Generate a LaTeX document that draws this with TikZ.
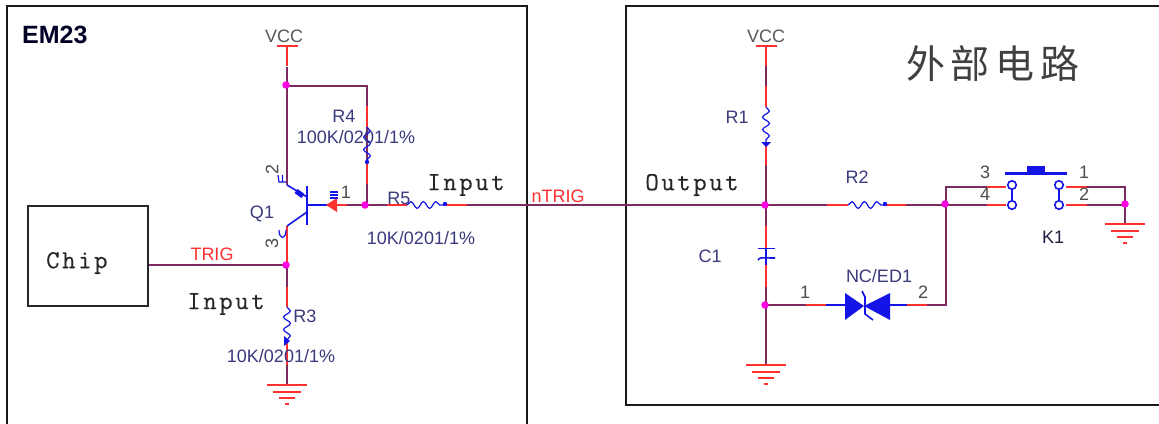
\documentclass[tikz,border=0pt]{standalone}
\usepackage{fontspec}
\setmainfont{Liberation Sans}
\newfontfamily\cjk{Noto Sans CJK SC}
\newfontfamily\mono[LetterSpace=10,FakeBold=0.3]{Latin Modern Mono}
\usetikzlibrary{decorations.pathmorphing}
\definecolor{wirepurple}{HTML}{7A2C5E}
\definecolor{wirered}{HTML}{FF3030}
\definecolor{partblue}{HTML}{1414E6}
\definecolor{refnavy}{HTML}{3A3A7E}
\definecolor{junctionpink}{HTML}{FF00E0}
\tikzset{
  border/.style={draw=black!90,line width=1.5pt},
  wire/.style={draw=wirepurple,line width=2pt},
  redwire/.style={draw=wirered,line width=2pt},
  part/.style={draw=partblue,line width=1.6pt},
  res/.style={draw=partblue,line width=1.2pt,decorate,decoration={snake,segment length=12.5pt,amplitude=3.4pt}},
  junction/.style={circle,fill=junctionpink,inner sep=0pt,minimum size=7.5pt},
  lbl/.style={text=refnavy,font=\fontsize{18}{18}\selectfont,inner sep=0pt},
  netlbl/.style={text=wirered,font=\fontsize{18}{18}\selectfont,inner sep=0pt},
  pinlbl/.style={text=black!70,font=\fontsize{18}{18}\selectfont,inner sep=0pt},
  monolbl/.style={text=black!85,font=\mono\fontsize{26}{26}\selectfont,inner sep=0pt},
  gndline/.style={draw=wirered,line width=2pt},
  pad/.style={circle,draw=partblue,line width=1.6pt,fill=white,inner sep=0pt,minimum size=8.5pt},
}
\newcommand{\gnd}[2]{%
  \draw[gndline] (#1-20,#2) -- (#1+20,#2);
  \draw[gndline] (#1-14,#2+6.5) -- (#1+14,#2+6.5);
  \draw[gndline] (#1-8,#2+13) -- (#1+8,#2+13);
  \draw[gndline] (#1-2,#2+19) -- (#1+2,#2+19);
}
\begin{document}
\begin{tikzpicture}[x=1pt,y=-1pt]
\useasboundingbox (0,0) rectangle (1159,423);
\fill[white] (0,0) rectangle (1159,423);
% frames
\draw[border] (7,430) -- (7,6) -- (527,6) -- (527,430);
\draw[border] (1165,6) -- (626,6) -- (626,405) -- (1165,405);
\node[draw=black!85,line width=1.5pt,minimum width=120pt,minimum height=100pt,inner sep=0pt,anchor=north west] (chip) at (27,205) {};
\node[monolbl,anchor=west] (chiptxt) at (46,263) {Chip};
\node[anchor=west,inner sep=0pt,text=black!85!blue,font=\bfseries\fontsize{25}{25}\selectfont] (em) at (22,35) {EM23};

% purple wires
\draw[wire] (287,67) -- (287,185);
\draw[wire] (287,86) -- (367,86) -- (367,205);
\draw[wire] (333,205) -- (407,205);
\draw[wire] (445,205) -- (848,205);
\draw[wire] (885,205) -- (1005,205);
\draw[wire] (287,226) -- (287,307);
\draw[wire] (chip.east|-0,265) -- (287,265);
\draw[wire] (287,340) -- (287,385);
\draw[wire] (766,60) -- (766,107);
\draw[wire] (766,143) -- (766,248);
\draw[wire] (766,258) -- (766,365);
\draw[wire] (766,305) -- (826,305);
\draw[wire] (907,305) -- (946,305) -- (946,187) -- (1006,187);
\draw[wire] (1066,187) -- (1125,187) -- (1125,224);
\draw[wire] (1066,205) -- (1125,205);

% red overlays
\draw[redwire] (287,46) -- (287,66);
\draw[redwire] (766,46) -- (766,66);
\draw[redwire] (766,86) -- (766,107);
\draw[redwire] (766,143) -- (766,165);
\draw[redwire] (367,106) -- (367,127);
\draw[redwire] (367,163) -- (367,184);
\draw[redwire] (333,205) -- (347,205);
\draw[redwire] (387,205) -- (407,205);
\draw[redwire] (445,205) -- (467,205);
\draw[redwire] (827,205) -- (848,205);
\draw[redwire] (885,205) -- (906,205);
\draw[redwire] (287,226) -- (287,263);
\draw[redwire] (287,287) -- (287,307);
\draw[redwire] (287,340) -- (287,365);
\draw[redwire] (766,226) -- (766,248);
\draw[redwire] (766,265) -- (766,287);
\draw[redwire] (806,305) -- (826,305);
\draw[redwire] (907,305) -- (927,305);
\draw[redwire] (987,187) -- (1006,187);
\draw[redwire] (987,205) -- (1006,205);
\draw[redwire] (1066,187) -- (1087,187);
\draw[redwire] (1066,205) -- (1087,205);

% VCC bars
\draw[gndline] (277,46) -- (298,46);
\draw[gndline] (756,46) -- (777,46);

% resistors
\draw[res] (367,127) -- (367,163);
\draw[res] (407,205) -- (445,205);
\draw[res] (287,307) -- (287,340);
\draw[res] (766,107) -- (766,143);
\draw[res] (848,205) -- (885,205);
\fill[partblue] (367,162) circle (2.2pt);
\fill[partblue] (445,204) circle (2.2pt);
\fill[partblue] (290,341) -- (284,336) -- (284,346) -- cycle;
\fill[partblue] (766,147) -- (761,142) -- (771,142) -- cycle;
\fill[partblue] (885,204) circle (2.2pt);

% transistor
\draw[part,line width=2pt] (307,186) -- (307,225);
\draw[part] (307,205) -- (327,205);
\draw[part] (287,185) -- (307,197);
\draw[part] (307,212) -- (287,226);
\draw[part,line width=5pt] (296,191) -- (303,196);
\fill[wirered] (326,205) -- (337,198) -- (337,212) -- cycle;
\draw[part,line width=1.2pt] (330,192) -- (338,192) (330,195) -- (338,195) (330,198) -- (338,198);
\draw[part,line width=1.2pt] (278,175) -- (279,182) -- (286,182) (282.5,175) -- (282.5,182);
\draw[part,line width=1.2pt] (279,230) .. controls (279,240) and (286,240) .. (286,230);

% capacitor
\draw[part] (758,248.5) -- (775,248.5);
\draw[part] (758,260) .. controls (760,257) and (762,258) .. (775,258);
\draw[part] (766,248) -- (766,265);

% diode
\draw[part] (826,305) -- (845,305);
\draw[part] (890,305) -- (907,305);
\fill[partblue] (845,293) -- (864,306) -- (845,320) -- cycle;
\fill[partblue] (890,293) -- (864,306) -- (890,320) -- cycle;
\draw[part] (862,291) -- (865,297) -- (865,314) -- (873,320);

% switch
\draw[part,line width=3pt] (1005,173) -- (1067,173);
\fill[partblue] (1027,166) rectangle (1045,173);
\draw[part] (1012,187) -- (1012,205);
\draw[part] (1059,187) -- (1059,205);
\node[pad] (s3) at (1012,185) {};
\node[pad] (s4) at (1012,205) {};
\node[pad] (s1) at (1059,185) {};
\node[pad] (s2) at (1059,205) {};

% grounds
\gnd{287}{385}
\gnd{766}{365}
\gnd{1125}{224}

% junction dots
\node[junction] (j1) at (286,85) {};
\node[junction] (j2) at (365,205) {};
\node[junction] (j3) at (286,265) {};
\node[junction] (j4) at (765,205) {};
\node[junction] (j5) at (765,305) {};
\node[junction] (j6) at (945,204) {};
\node[junction] (j7) at (1125,204) {};

% labels
\node[lbl,text=black!65] at (284,36) {VCC};
\node[lbl,text=black!65] at (766,36) {VCC};
\node[lbl] at (344,116) {R4};
\node[lbl] at (356,137) {100K/0201/1\%};
\node[lbl] at (399,198) {R5};
\node[lbl] at (421,238) {10K/0201/1\%};
\node[lbl] at (262,214) {Q1};
\node[lbl] at (305,316) {R3};
\node[lbl] at (281,356) {10K/0201/1\%};
\node[lbl] at (737,117) {R1};
\node[lbl] at (857,177) {R2};
\node[lbl] at (710,256) {C1};
\node[lbl] at (879,276) {NC/ED1};
\node[lbl,text=black!50!refnavy] at (1053,237) {K1};
\node[netlbl] at (212,254) {TRIG};
\node[netlbl] at (558,196) {nTRIG};
\node[pinlbl,rotate=90] at (272,169) {2};
\node[pinlbl,rotate=90] at (272,243) {3};
\node[pinlbl] at (346,192) {1};
\node[pinlbl] at (805,292) {1};
\node[pinlbl] at (923,292) {2};
\node[pinlbl] at (985,172) {3};
\node[pinlbl] at (985,194) {4};
\node[pinlbl] at (1084,172) {1};
\node[pinlbl] at (1084,194) {2};
\node[monolbl] at (466,185) {Input};
\node[monolbl] at (226,304) {Input};
\node[monolbl] at (692,185) {Output};
\node[inner sep=0pt,text=black!75,font=\cjk\fontsize{39}{39}\selectfont] at (993,64) {外\hspace{6pt}部\hspace{6pt}电\hspace{6pt}路};
\end{tikzpicture}
\end{document}
